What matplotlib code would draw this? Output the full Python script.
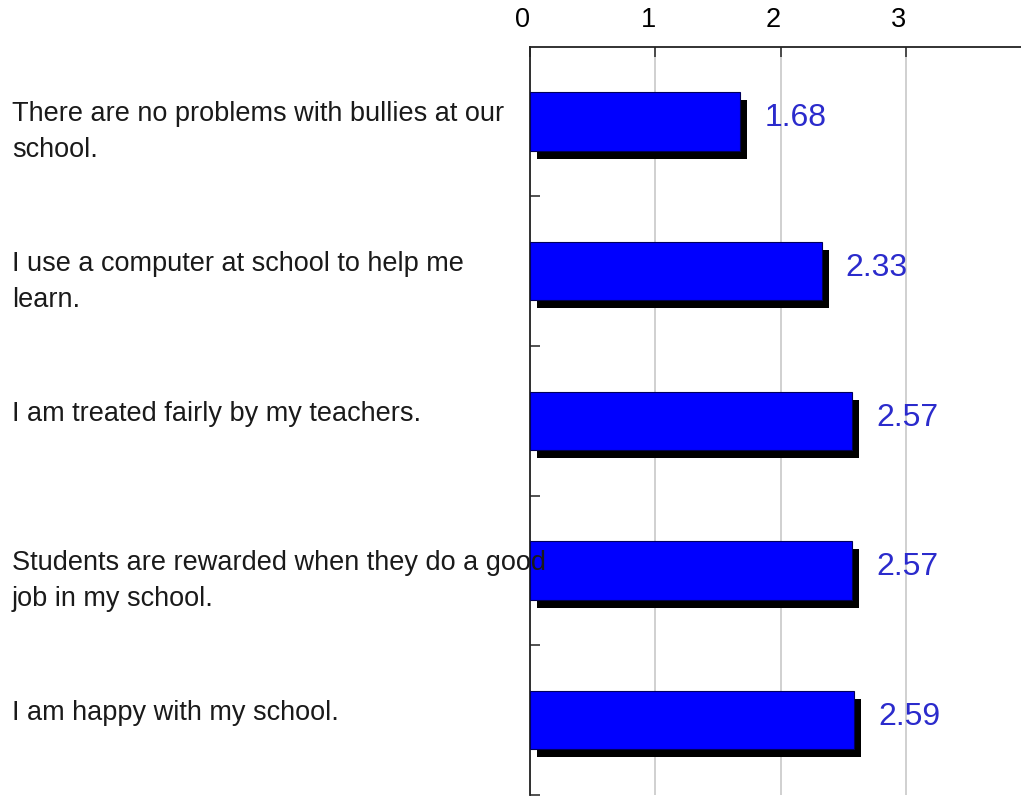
import matplotlib
matplotlib.use('Agg')
import matplotlib.pyplot as plt
import matplotlib.transforms as mtransforms
from matplotlib.ticker import FixedLocator

plt.rcParams['font.family'] = ['Liberation Sans', 'DejaVu Sans']

# survey statements and their mean scores
statements = [
    'There are no problems with bullies at our\nschool.',
    'I use a computer at school to help me\nlearn.',
    'I am treated fairly by my teachers.',
    'Students are rewarded when they do a good\njob in my school.',
    'I am happy with my school.',
]
scores = [1.68, 2.33, 2.57, 2.57, 2.59]
x_ticks = [0, 1, 2, 3]

W, H = 1021, 797
fig = plt.figure(figsize=(W / 100, H / 100), dpi=100)
ax = fig.add_axes([530 / W, 1 - 795 / H, 1 - 530 / W, (795 - 46.5) / H])

pos = list(range(len(scores)))

# black drop shadow behind each bar
shadow = ax.transData + mtransforms.ScaledTranslation(7 / 100, -8 / 100, fig.dpi_scale_trans)
ax.barh(pos, scores, height=0.39, color='black', transform=shadow, zorder=2)
ax.barh(pos, scores, height=0.39, color='#0000ff', edgecolor='#00005a',
        linewidth=0.8, zorder=3)

ax.set_xlim(0, 3.92)
ax.set_ylim(len(scores) - 0.5, -0.5)

# value labels
lbl_off = mtransforms.ScaledTranslation(24 / 100, 3 / 100, fig.dpi_scale_trans)
for p, v in zip(pos, scores):
    ax.text(v, p, f'{v:.2f}', transform=ax.transData + lbl_off, ha='left', va='center',
            fontsize=23, color='#2b2bcc', zorder=5)

# statements on the left, drawn over the bars, one text per line (36 px apart)
txt_tr = mtransforms.blended_transform_factory(fig.transFigure, ax.transData)
for p, s in zip(pos, statements):
    for k, line in enumerate(s.split('\n')):
        down = mtransforms.ScaledTranslation(0, -36 * k / 100, fig.dpi_scale_trans)
        ax.text(12 / W, p, line, transform=txt_tr + down, ha='left', va='baseline',
                fontsize=19.5, color='#1a1a1a', zorder=6)

# axes styling
for side in ['right', 'bottom']:
    ax.spines[side].set_visible(False)
for side in ['top', 'left']:
    ax.spines[side].set_linewidth(1.3)
    ax.spines[side].set_color('#222222')

ax.xaxis.tick_top()
ax.set_xticks(x_ticks)
ax.set_xticklabels([str(t) for t in x_ticks], fontsize=19.5)
ax.tick_params(axis='x', direction='in', length=7, width=1.2, color='#333333', pad=9.7)
tick_shift = mtransforms.ScaledTranslation(-7 / 100, 0, fig.dpi_scale_trans)
for lab in ax.get_xticklabels():
    lab.set_transform(lab.get_transform() + tick_shift)

ax.set_yticks([])
ax.yaxis.set_minor_locator(FixedLocator([p + 0.5 for p in pos]))
ax.tick_params(axis='y', which='minor', direction='in', length=7, width=1.2, color='#333333')

ax.grid(axis='x', color='#c8c8c8', linewidth=1.2, zorder=0)
ax.set_axisbelow(True)

fig.savefig('out.png', dpi=100)
